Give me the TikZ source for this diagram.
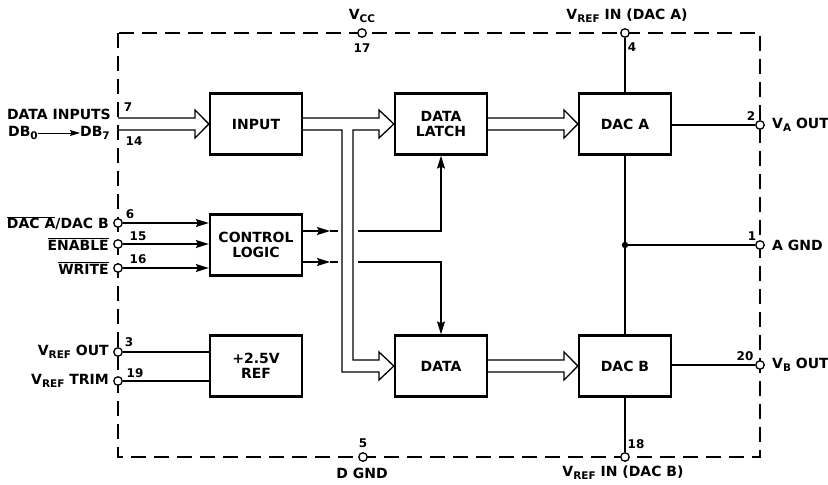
\documentclass[tikz,border=0pt]{standalone}
\usepackage{fontspec}
\setmainfont{DejaVu Sans}
\usetikzlibrary{arrows.meta}
\newcommand\lbl{\fontsize{14}{15}\selectfont\bfseries}
\newcommand\sbs[1]{\raisebox{-0.4ex}{\fontsize{10.5}{10.5}\selectfont #1}}
\begin{document}
\begin{tikzpicture}[x=1pt,y=-1pt,
  box/.style={draw, line width=2.3pt, minimum width=92pt, minimum height=61pt, align=center, font=\lbl, inner sep=0pt},
  pin/.style={circle, draw, fill=white, line width=1.3pt, minimum size=8.5pt, inner sep=0pt},
  wire/.style={line width=1.3pt},
  arr/.style={wire, -{Stealth[length=13pt,width=8pt,inset=2pt]}},
  bus/.style={line width=1.3pt, line join=miter},
  border/.style={line width=2.6pt, dash pattern=on 15pt off 8pt},
  txt/.style={font=\lbl, inner sep=0pt},
  num/.style={font=\fontsize{12}{13}\selectfont\bfseries, inner sep=0pt},
]
\useasboundingbox (0,0) rectangle (828,485);

% border
\draw[border] (118,33) rectangle (760,457);

% boxes
\node[box] (input) at (256,124) {INPUT};
\node[box] (latch) at (441,124) {DATA\\LATCH};
\node[box] (daca)  at (625,124) {DAC A};
\node[box] (ctrl)  at (256,245) {CONTROL\\LOGIC};
\node[box] (ref)   at (256,366) {+2.5V\\REF};
\node[box] (data)  at (441,366) {DATA};
\node[box] (dacb)  at (625,366) {DAC B};

% buses
\draw[bus] (118,118) -- (195,118) -- (195,110) -- (input.west) -- (195,138) -- (195,130) -- (118,130);
\draw[bus] (input.east |- 0,118) -- (379,118) -- (379,110) -- (latch.west) -- (379,138) -- (379,130)
  -- (353,130) -- (353,360) -- (379,360) -- (379,352) -- (data.west) -- (379,380) -- (379,372)
  -- (342,372) -- (342,130) -- (input.east |- 0,130);
\draw[bus] (latch.east |- 0,118) -- (564,118) -- (564,110) -- (daca.west) -- (564,138) -- (564,130) -- (latch.east |- 0,130);
\draw[bus] (data.east |- 0,360) -- (564,360) -- (564,352) -- (dacb.west) -- (564,380) -- (564,372) -- (data.east |- 0,372);

% pins
\node[pin] (p17) at (362,33) {};
\node[pin] (p4)  at (625,33) {};
\node[pin] (p6)  at (118,223) {};
\node[pin] (p15) at (118,244) {};
\node[pin] (p16) at (118,268) {};
\node[pin] (p3)  at (118,352) {};
\node[pin] (p19) at (118,381) {};
\node[pin] (p2)  at (760,125) {};
\node[pin] (p1)  at (760,245) {};
\node[pin] (p20) at (760,365) {};
\node[pin] (p5)  at (363,457) {};
\node[pin] (p18) at (625,457) {};

% control inputs
\draw[arr] (p6)  -- (p6 -| ctrl.west);
\draw[arr] (p15) -- (p15 -| ctrl.west);
\draw[arr] (p16) -- (p16 -| ctrl.west);

% control outputs
\coordinate (c1a) at (330,231); \coordinate (c1b) at (338,231); \coordinate (c1c) at (358,231);
\coordinate (c2a) at (330,262); \coordinate (c2b) at (338,262); \coordinate (c2c) at (358,262);
\draw[arr] (ctrl.east |- c1a) -- (c1a);
\draw[wire] (c1a) -- (c1b);
\draw[arr] (c1c) -| (latch.south);
\draw[arr] (ctrl.east |- c2a) -- (c2a);
\draw[wire] (c2a) -- (c2b);
\draw[arr] (c2c) -| (data.north);

% reference
\draw[wire] (p3)  -- (p3 -| ref.west);
\draw[wire] (p19) -- (p19 -| ref.west);

% DAC connections
\draw[wire] (p4) -- (daca);
\draw[wire] (daca) -- (dacb);
\draw[wire] (dacb) -- (p18);
\coordinate (j) at (625,245);
\fill (j) circle (3.2pt);
\draw[wire] (j) -- (p1);
\draw[wire] (daca.east |- p2) -- (p2);
\draw[wire] (dacb.east |- p20) -- (p20);

% left labels
\node[txt, anchor=east] (ldi) at (111,114) {DATA INPUTS};
\node[txt, anchor=east] (db0) at (38,133) {DB\sbs{0}};
\node[txt, anchor=west] (db7) at (80,133) {DB\sbs{7}};
\draw[line width=1pt, -{Stealth[length=10pt,width=6pt,inset=1.5pt]}] (db0) -- (db7);
\node[txt, anchor=east] at (109,223) {$\overline{\mbox{DAC A}}$/DAC B};
\node[txt, anchor=east] at (109,244) {$\overline{\mbox{ENABLE}}$};
\node[txt, anchor=east] at (109,268) {$\overline{\mbox{WRITE}}$};
\node[txt, anchor=east] at (109,352) {V\sbs{REF} OUT};
\node[txt, anchor=east] at (109,381) {V\sbs{REF} TRIM};

% right labels
\node[txt, anchor=west] at (772,125) {V\sbs{A} OUT};
\node[txt, anchor=west] at (772,245) {A GND};
\node[txt, anchor=west] at (772,365) {V\sbs{B} OUT};

% top / bottom labels
\node[txt] at (362,16) {V\sbs{CC}};
\node[txt] at (627,16) {V\sbs{REF} IN (DAC A)};
\node[txt] at (362,473) {D GND};
\node[txt] at (623,473) {V\sbs{REF} IN (DAC B)};

% pin numbers
\node[num] at (362,48) {17};
\node[num] at (632,47) {4};
\node[num] at (363,443) {5};
\node[num] at (636,444) {18};
\node[num] at (751,116) {2};
\node[num] at (752,236) {1};
\node[num] at (745,356) {20};
\node[num] at (128,107) {7};
\node[num] at (134,141) {14};
\node[num] at (130,214) {6};
\node[num] at (138,236) {15};
\node[num] at (138,259) {16};
\node[num] at (129,342) {3};
\node[num] at (135,373) {19};
\end{tikzpicture}
\end{document}
